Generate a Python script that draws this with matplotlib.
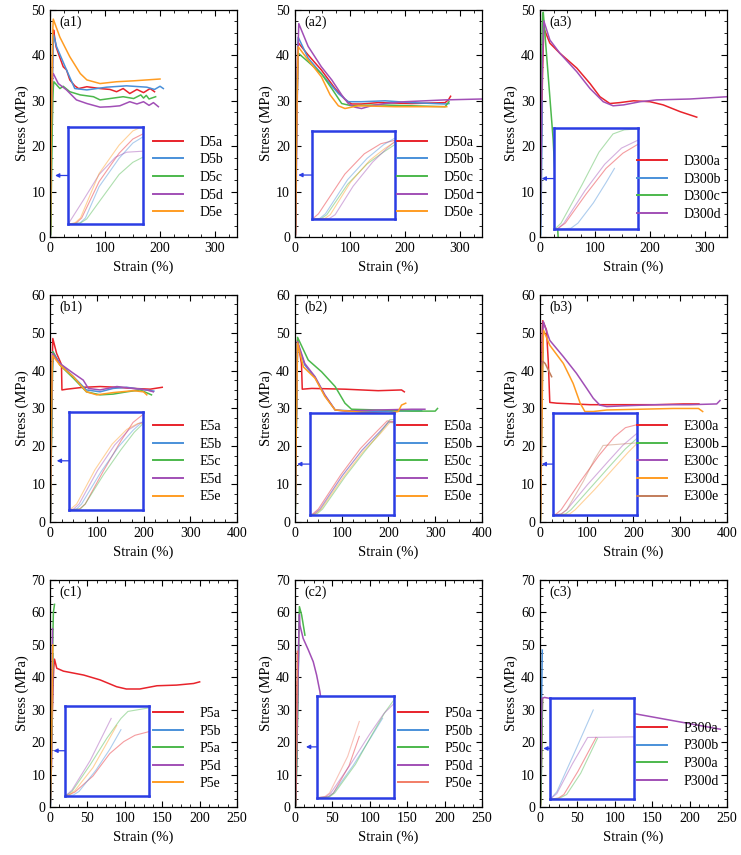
import numpy as np
import matplotlib
matplotlib.use("Agg")
import matplotlib.pyplot as plt
from matplotlib.ticker import MultipleLocator, AutoMinorLocator

plt.rcParams['font.family'] = ['Liberation Serif', 'DejaVu Serif']
plt.rcParams['font.size'] = 10

RED = '#e8232b'
BLUE = '#4a90d9'
GREEN = '#4cb84c'
PURPLE = '#a14fb6'
ORANGE = '#ff9c22'
BROWN = '#c27c5a'
SALMON = '#f27d66'
BOX = '#2b3de4'

# ---- (a1) D5 ----
a1_labels = ['D5a', 'D5b', 'D5c', 'D5d', 'D5e']
a1_strain = [
    [0, 0.66, 1.1, 2.5, 4.1, 5.2, 6.0, 6.5, 11, 15, 24, 30, 36, 45, 52, 67, 91, 109, 121, 133, 145, 158, 170, 182, 190],
    [0, 0.96, 1.4, 2.5, 4.1, 5.2, 6.0, 6.6, 12, 30, 45, 67, 103, 139, 176, 190, 200, 206],
    [0, 1.0, 1.5, 2.5, 4.1, 5.2, 6.0, 7.0, 18, 24, 36, 55, 79, 91, 109, 133, 152, 165, 170, 175, 180, 192],
    [0, 0.12, 1.2, 2.5, 3.8, 4.7, 6.0, 15, 30, 48, 67, 91, 109, 127, 145, 158, 170, 180, 188, 197],
    [0, 0.54, 1.0, 2.5, 4.1, 5.2, 5.9, 18, 36, 55, 67, 91, 121, 152, 176, 200],
]
a1_stress = [
    [0, 0.5, 3, 21, 35, 42, 44.5, 45.6, 41.9, 40.5, 37.5, 36.8, 34.6, 33.3, 32.7, 33.1, 32.7, 32.5, 32, 32.7, 31.6, 32.5, 31.8, 32.7, 32],
    [0, 0.5, 3, 18.5, 32.5, 40, 43, 44.5, 41.9, 36.8, 32.7, 32.4, 33, 33.3, 33, 32.5, 33.2, 32.7],
    [0, 0.5, 2.5, 11, 24.5, 30.5, 33, 34.2, 32.7, 33.2, 32, 31.3, 30.9, 30.2, 30.5, 30.9, 30.5, 31.3, 30.6, 31.2, 30.4, 30.9],
    [0, 1, 11.5, 24.5, 33, 35.5, 36, 33.8, 32.4, 30.2, 29.4, 28.6, 28.7, 28.9, 29.8, 29.3, 29.8, 29, 29.6, 28.7],
    [0, 0.5, 3, 25, 39, 46, 48, 44, 39.7, 36, 34.6, 33.8, 34.2, 34.4, 34.6, 34.8],
]

# ---- (a2) D50 ----
a2_labels = ['D50a', 'D50b', 'D50c', 'D50d', 'D50e']
a2_strain = [
    [0, 0.12, 0.5, 2.4, 3.8, 5.0, 6.0, 24, 48, 73, 91, 103, 121, 152, 212, 273, 279, 283],
    [0, 0.6, 1.0, 2.6, 4.0, 5.2, 6.0, 24, 55, 79, 97, 121, 164, 212, 273, 280],
    [0, 0.72, 1.1, 2.6, 4.0, 5.2, 6.0, 24, 48, 67, 85, 103, 152, 212, 273, 280],
    [0, 1.3, 1.7, 3.0, 4.4, 5.5, 6.3, 7.0, 24, 48, 67, 85, 97, 109, 121, 139, 164, 200, 273, 340],
    [0, 0.96, 1.35, 2.8, 4.2, 5.3, 6.0, 24, 48, 64, 79, 91, 115, 182, 242, 276],
]
a2_stress = [
    [0, 0.5, 3, 24.5, 35.5, 41, 42.8, 40.1, 36.8, 32.7, 30.3, 29.3, 29.3, 29.6, 29.4, 29.6, 30.2, 31],
    [0, 0.5, 3, 21.5, 33, 40.5, 44, 39.4, 35, 31.6, 29.8, 29.8, 30, 29.6, 29.3, 29.4],
    [0, 0.5, 2.5, 19, 30, 36.5, 40.5, 38.6, 36, 32.7, 29.4, 28.9, 29.1, 28.9, 28.7, 29.8],
    [0, 0.5, 2.5, 18, 31, 39, 44, 47, 42, 37.5, 34.6, 31.3, 29.4, 28.6, 28.3, 28.9, 29.4, 29.8, 30.2, 30.4],
    [0, 0.5, 2.5, 20, 32, 38.5, 41.9, 39, 35.3, 31.3, 28.9, 28.3, 28.9, 28.7, 28.7, 28.7],
]

# ---- (a3) D300 ----
a3_labels = ['D300a', 'D300b', 'D300c', 'D300d']
a3_strain = [
    [0, 0.3, 0.8, 2.3, 3.7, 4.9, 6.0, 7.0, 18, 36, 67, 91, 109, 127, 145, 170, 200, 224, 255, 285],
    [0, 1.2, 1.7, 2.8, 3.7, 4.3],
    [0, 0.12, 0.5, 2.0, 3.2, 4.2, 5.0, 6.0, 24, 33],
    [0, 0.3, 0.7, 2.2, 3.6, 4.8, 6.0, 7.0, 18, 36, 67, 91, 115, 133, 152, 182, 212, 273, 340],
]
a3_stress = [
    [0, 0.5, 3, 17.5, 30, 37.5, 42, 46, 42.7, 40.5, 37.2, 33.8, 30.9, 29.4, 29.6, 30, 29.8, 29.1, 27.6, 26.4],
    [0, 0.5, 3, 13, 23, 30],
    [0, 0.5, 3, 22, 38, 47, 49, 49.5, 21.4, 0],
    [0, 0.5, 3, 19, 32, 40, 44, 47.6, 43.4, 40.5, 36.4, 32.7, 29.8, 28.9, 29.1, 29.8, 30.2, 30.4, 30.9],
]

# ---- (b1) E5 ----
b1_labels = ['E5a', 'E5b', 'E5c', 'E5d', 'E5e']
b1_strain = [
    [0, 0.84, 1.3, 2.8, 4.2, 5.2, 6.0, 14, 23.5, 24.5, 25.5, 36, 71, 107, 143, 178, 214, 240],
    [0, 0.6, 1.0, 2.6, 4.0, 5.2, 6.0, 21, 50, 78, 107, 135, 164, 193, 222],
    [0, 0.9, 1.3, 2.8, 4.2, 5.3, 6.2, 21, 50, 78, 107, 135, 164, 193, 217],
    [0, 0.36, 0.8, 2.3, 3.7, 4.9, 5.8, 21, 50, 71, 82, 107, 143, 178, 207, 221],
    [0, 0.12, 0.6, 2.1, 3.5, 4.7, 5.6, 21, 50, 78, 100, 135, 178, 200, 207],
]
b1_stress = [
    [0, 0.5, 3, 20, 35, 44.5, 48.5, 44.6, 41.9, 41.5, 34.9, 35.1, 35.6, 35.8, 35.6, 35.3, 35.1, 35.6],
    [0, 0.5, 3, 19.5, 32, 40.5, 45, 41.9, 38.4, 34.9, 34.4, 35.3, 35.6, 35.1, 34.6],
    [0, 0.5, 3, 18, 30.5, 39.5, 45, 41.5, 38, 34.4, 33.6, 33.8, 34.4, 34.9, 33.6],
    [0, 0.5, 3, 20, 33, 41, 44.5, 41.9, 39.3, 37.5, 35.3, 34.9, 35.8, 35.3, 34.9, 34.4],
    [0, 0.5, 3, 20.5, 33.5, 41, 44, 41.5, 38.4, 34.4, 33.6, 34.2, 34.7, 34.4, 33.6],
]

# ---- (b2) E50 ----
b2_labels = ['E50a', 'E50b', 'E50c', 'E50d', 'E50e']
b2_strain = [
    [0, 0.2, 0.6, 2.2, 3.6, 4.8, 5.5, 14, 15.7, 36, 107, 178, 228, 234],
    [0, 0.35, 0.75, 2.3, 3.7, 4.9, 5.6, 21, 43, 64, 86, 143, 214, 271],
    [0, 0.5, 0.9, 2.5, 3.9, 5.0, 5.7, 28.5, 57, 86, 107, 121, 178, 250, 300, 305],
    [0, 0.3, 0.7, 2.3, 3.7, 4.9, 5.6, 21, 43, 64, 86, 107, 178, 250, 278],
    [0, 0.4, 0.8, 2.4, 3.8, 5.0, 5.7, 18, 43, 64, 86, 143, 200, 221, 228, 237],
]
b2_stress = [
    [0, 0.5, 3, 20.5, 34, 43, 48.1, 41.9, 35.1, 35.3, 35.1, 34.7, 34.9, 34.4],
    [0, 0.5, 3, 20, 33, 42, 47.3, 41.5, 38.2, 33.4, 29.6, 29.2, 29.3, 29.4],
    [0, 0.5, 3, 19.5, 32.5, 42, 48.8, 42.8, 39.7, 35.8, 31.4, 29.8, 29.6, 29.3, 29.3, 30],
    [0, 0.5, 3, 20, 33, 42, 47.7, 41.9, 38.4, 33.6, 29.6, 29.3, 29.6, 29.8, 29.8],
    [0, 0.5, 3, 19.5, 32.5, 41.5, 47.3, 41, 38, 33.2, 29.6, 29, 28.7, 29.2, 30.9, 31.4],
]

# ---- (b3) E300 ----
b3_labels = ['E300a', 'E300b', 'E300c', 'E300d', 'E300e']
b3_strain = [
    [0, 0.24, 0.6, 2.0, 3.3, 4.4, 5.2, 6.0, 14, 18, 21, 36, 107, 178, 250, 307, 340],
    [0, 0.9, 1.3, 2.7, 4.1, 5.2, 6.0, 6.5],
    [0, 0.6, 1.0, 2.5, 3.9, 5.0, 6.0, 7.0, 21, 50, 78, 100, 114, 128, 143, 178, 250, 321, 378, 385],
    [0, 1.2, 1.6, 3.0, 4.3, 5.4, 6.0, 7.5, 21, 50, 71, 86, 96, 114, 143, 214, 285, 339, 348],
    [0, 0.6, 1.0, 2.2, 3.0, 3.6, 6.0, 11, 25],
]
b3_stress = [
    [0, 0.5, 3, 20, 35, 46, 51.5, 53.2, 50.7, 41.9, 31.6, 31.4, 31, 31, 31, 31.2, 31.2],
    [0, 0.5, 3, 16, 29, 39, 45, 46],
    [0, 0.5, 3, 18, 31, 41, 48, 53, 48, 43.7, 39.3, 35.3, 32.7, 30.9, 30.5, 30.7, 31, 31, 31.2, 32.1],
    [0, 0.5, 3, 15, 27, 37, 42, 50.7, 46.7, 41.9, 36.6, 31.4, 29.2, 29.2, 29.6, 29.8, 30, 30, 29.2],
    [0, 0.5, 3, 20, 33, 41, 42.5, 41.9, 38.4],
]

# ---- (c1) P5 ----
c1_labels = ['P5a', 'P5b', 'P5a', 'P5d', 'P5e']
c1_strain = [
    [0, 0.24, 0.7, 2.0, 3.2, 4.2, 5.0, 6.0, 9, 18, 45, 67, 89, 102, 120, 143, 169, 192, 200],
    [0, 0.6, 1.0, 2.2, 3.2, 4.0],
    [0, 0.12, 0.5, 1.8, 3.0, 4.0, 4.5, 6.0],
    [0, 0.12, 0.5, 1.8, 3.3],
    [0, 0.3, 0.7, 2.0, 3.7],
]
c1_stress = [
    [0, 0.5, 2.5, 14, 30, 38.5, 43, 45.6, 42.8, 41.9, 40.7, 39.2, 37.1, 36.4, 36.4, 37.4, 37.6, 38.1, 38.6],
    [0, 0.5, 3, 18, 33, 47],
    [0, 0.5, 3, 22, 41, 55, 60, 62.5],
    [0, 0.5, 4, 25, 55],
    [0, 0.5, 3.5, 20, 50],
]

# ---- (c2) P50 ----
c2_labels = ['P50a', 'P50b', 'P50c', 'P50d', 'P50e']
c2_strain = [
    [0, 0.9, 1.3, 2.5, 3.3],
    [0, 0.9, 1.3, 2.8, 4.2, 5.1],
    [0, 1.0, 1.4, 3.0, 4.3, 5.3, 6.0, 9, 13.4],
    [0, 0.7, 1.1, 2.7, 4.1, 5.2, 6.0, 6.7, 11, 18, 24.5, 29, 33.4, 36],
    [0, 0.6, 1.0, 2.4, 3.3],
]
c2_stress = [
    [0, 0.5, 3, 20, 38.6],
    [0, 0.5, 3, 20, 38, 50],
    [0, 0.5, 3, 21, 40, 54, 61.8, 59.2, 53],
    [0, 0.5, 3, 22, 40, 53, 59.4, 56.1, 52, 48.4, 44.8, 40.7, 35.6, 31],
    [0, 0.5, 3, 26, 48],
]

# ---- (c3) P300 ----
c3_labels = ['P300a', 'P300b', 'P300a', 'P300d']
c3_strain = [
    [0, 0.6, 1.0, 2.0, 3.3],
    [0, 0.1, 0.5, 1.8, 3.1],
    [0, 0.7, 1.2, 2.2, 3.4],
    [0, 0.1, 0.5, 1.6, 2.7, 6.0, 241],
]
c3_stress = [
    [0, 0.5, 2.5, 15, 33.5],
    [0, 0.5, 4, 26, 48.4],
    [0, 0.5, 2.5, 14, 33],
    [0, 0.5, 3, 19, 33.5, 33.8, 24],
]

five = [RED, BLUE, GREEN, PURPLE, ORANGE]
# tag, labels, strain, stress, colors, xmax, xstep, ymax, inset rect, inset ylim, legend (x, row1 y), arrow tip x
panels = [
    ('(a1)', a1_labels, a1_strain, a1_stress, five, 340, 100, 50, [0.096, 0.057, 0.40, 0.428], 48, (0.55, 0.41), 0.027),
    ('(a2)', a2_labels, a2_strain, a2_stress, five, 340, 100, 50, [0.089, 0.078, 0.445, 0.39], 48, (0.544, 0.41), 0.018),
    ('(a3)', a3_labels, a3_strain, a3_stress, [RED, BLUE, GREEN, PURPLE], 340, 100, 50, [0.075, 0.034, 0.451, 0.447], 50, (0.517, 0.325), 0.009),
    ('(b1)', b1_labels, b1_strain, b1_stress, five, 400, 100, 60, [0.103, 0.053, 0.393, 0.433], 50, (0.549, 0.413), 0.036),
    ('(b2)', b2_labels, b2_strain, b2_stress, five, 400, 100, 60, [0.080, 0.031, 0.451, 0.448], 52, (0.544, 0.413), 0.012),
    ('(b3)', b3_labels, b3_strain, b3_stress, [RED, GREEN, PURPLE, ORANGE, BROWN], 400, 100, 60, [0.068, 0.031, 0.449, 0.448], 60, (0.517, 0.413), 0.009),
    ('(c1)', c1_labels, c1_strain, c1_stress, five, 250, 50, 70, [0.080, 0.050, 0.449, 0.396], 64, (0.55, 0.405), 0.018),
    ('(c2)', c2_labels, c2_strain, c2_stress, [RED, BLUE, GREEN, PURPLE, SALMON], 250, 50, 70, [0.116, 0.041, 0.415, 0.448], 64, (0.55, 0.405), 0.059),
    ('(c3)', c3_labels, c3_strain, c3_stress, [RED, BLUE, GREEN, PURPLE], 250, 50, 70, [0.053, 0.035, 0.449, 0.446], 55, (0.517, 0.339), 0.018),
]

fig = plt.figure(figsize=(7.41, 8.55), dpi=100)
lefts = [0.0675, 0.398, 0.7287]
bottoms = [0.7228, 0.3895, 0.0561]
W, H = 0.2524, 0.2655

for i, (tag, labels, strain, stress, colors, xmax, xstep, ymax, rect, iy, leg, tipx) in enumerate(panels):
    ax = fig.add_axes([lefts[i % 3], bottoms[i // 3], W, H])
    lines = []
    for x, y, c in zip(strain, stress, colors):
        ln, = ax.plot(x, y, color=c, lw=1.1)
        lines.append(ln)
    ax.set_xlim(0, xmax)
    ax.set_ylim(0, ymax)
    ax.xaxis.set_major_locator(MultipleLocator(xstep))
    ax.yaxis.set_major_locator(MultipleLocator(10))
    ax.xaxis.set_minor_locator(AutoMinorLocator(4))
    ax.yaxis.set_minor_locator(AutoMinorLocator(4))
    ax.tick_params(which='both', direction='in', top=True, right=True, labelsize=10)
    ax.tick_params(which='major', length=4, width=0.8)
    ax.tick_params(which='minor', length=2, width=0.6)
    for s in ax.spines.values():
        s.set_linewidth(0.9)
    ax.set_xlabel('Strain (%)', fontsize=10.5, labelpad=4)
    ax.set_ylabel('Stress (MPa)', fontsize=10.5, labelpad=2)
    ax.text(0.05, 0.975, tag, transform=ax.transAxes, ha='left', va='top', fontsize=10)

    # zoomed view of the elastic region
    ins = ax.inset_axes(rect)
    for x, y, c in zip(strain, stress, colors):
        ins.plot(x, y, color=c, lw=0.8, alpha=0.45)
    ins.set_xlim(0, 6)
    ins.set_ylim(0, iy)
    ins.set_xticks([])
    ins.set_yticks([])
    for s in ins.spines.values():
        s.set_color(BOX)
        s.set_linewidth(1.8)

    ymid = rect[1] + rect[3] / 2
    ax.annotate('', xy=(tipx, ymid), xycoords='axes fraction',
                xytext=(rect[0], ymid), textcoords='axes fraction',
                arrowprops=dict(arrowstyle='-|>', color=BOX, lw=0.9,
                                mutation_scale=6, shrinkA=0, shrinkB=0))

    lg = ax.legend(lines, labels, loc='upper left', bbox_to_anchor=(leg[0], leg[1] + 0.036),
                   frameon=False, fontsize=10, handlelength=2.15, handletextpad=1.2,
                   labelspacing=0.33, borderpad=0, borderaxespad=0)
    for h in lg.get_lines():
        h.set_linewidth(1.4)
    lg.set_zorder(6)

fig.savefig('out.png', dpi=100)
